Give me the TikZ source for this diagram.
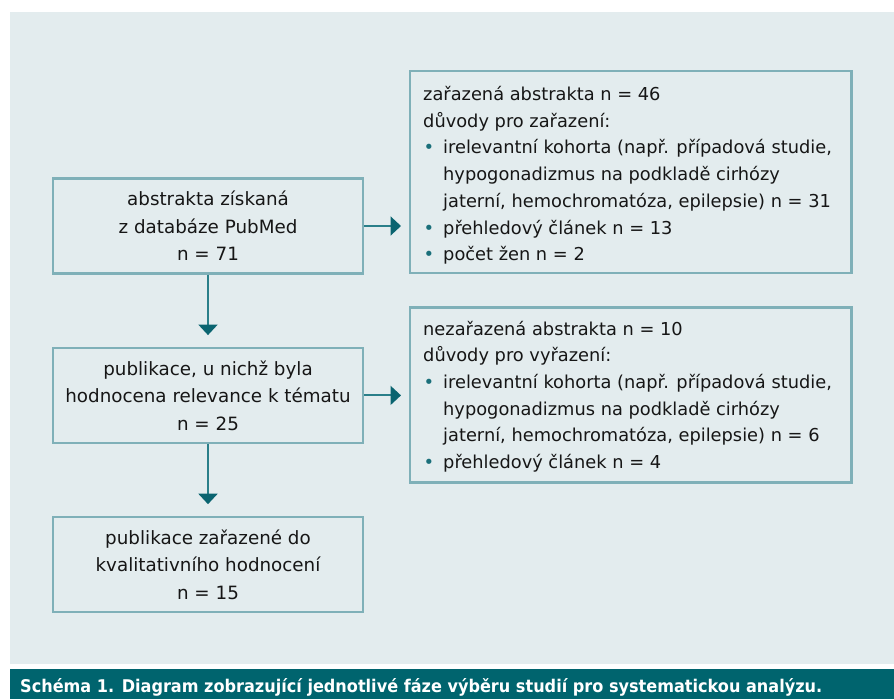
\documentclass[tikz,border=0pt]{standalone}
\usepackage{fontspec}
\usepackage{graphicx}
\setmainfont{DejaVu Sans}
\usetikzlibrary{arrows.meta}
\definecolor{bggray}{HTML}{E3ECEE}
\definecolor{boxline}{HTML}{7FB0B8}
\definecolor{arrline}{HTML}{2A7F89}
\definecolor{arrhead}{HTML}{0A6470}
\definecolor{capbar}{HTML}{00646E}
\definecolor{bulc}{HTML}{1A6F7A}
\definecolor{txt}{HTML}{161616}
\newcommand\bul{\makebox[20pt][l]{\hspace{0.5pt}{\fontsize{18}{18}\selectfont\color{bulc}•}}}
\newcommand\ind{\hspace*{20pt}}
\begin{document}
\begin{tikzpicture}[x=1pt,y=-1pt,
  flowbox/.style={draw=boxline, line width=2.4pt, minimum width=310pt, minimum height=95pt,
    inner sep=0pt, align=center, text=txt, font=\fontsize{18.3}{27.5}\selectfont},
  sidebox/.style={draw=boxline, line width=2.4pt, minimum width=441.6pt, inner sep=0pt},
  sidetext/.style={anchor=base west, inner sep=0pt, text=txt, font=\fontsize{17.8}{26.7}\selectfont},
  flowarrow/.style={draw=arrline, line width=2pt, -{Triangle[width=19pt,length=10.5pt,color=arrhead]}},
  captext/.style={anchor=base west, inner sep=0pt, text=white, font=\bfseries\fontsize{17.5}{20}\selectfont}
]
\useasboundingbox (0,0) rectangle (894,699);
\fill[white] (0,0) rectangle (894,699);
\fill[bggray] (10,12) rectangle (894,664);
\fill[capbar] (10,669) rectangle (894,699);

\node[flowbox] (A) at (208,226) {abstrakta získaná\\z databáze PubMed\\n = 71};
\node[flowbox] (B) at (208,395.4) {publikace, u nichž byla\\hodnocena relevance k tématu\\n = 25};
\node[flowbox] (C) at (208,564.5) {publikace zařazené do\\kvalitativního hodnocení\\n = 15};

\node[sidebox, minimum height=202pt] (R1) at (630.5,171.7) {};
\node[sidebox, minimum height=175pt] (R2) at (630.5,394.8) {};

\node[sidetext] (R1t) at (423,100.5) {\vtop{%
  \hbox{zařazená abstrakta n = 46}
  \hbox{důvody pro zařazení:}
  \hbox{\bul irelevantní kohorta (např. případová studie,}
  \hbox{\ind hypogonadizmus na podkladě cirhózy}
  \hbox{\ind jaterní, hemochromatóza, epilepsie) n = 31}
  \hbox{\bul přehledový článek n = 13}
  \hbox{\bul počet žen n = 2}}};

\node[sidetext] (R2t) at (423,335) {\vtop{%
  \hbox{nezařazená abstrakta n = 10}
  \hbox{důvody pro vyřazení:}
  \hbox{\bul irelevantní kohorta (např. případová studie,}
  \hbox{\ind hypogonadizmus na podkladě cirhózy}
  \hbox{\ind jaterní, hemochromatóza, epilepsie) n = 6}
  \hbox{\bul přehledový článek n = 4}}};

\draw[flowarrow, shorten >=11.6pt] (A) -- (B);
\draw[flowarrow, shorten >=11.6pt] (B) -- (C);
\draw[flowarrow, shorten >=7.5pt] (A.east) -- (A.east -| R1.west);
\draw[flowarrow, shorten >=7.5pt] (B.east) -- (B.east -| R2.west);

\node[captext] (cap) at (20,692) {\resizebox{802pt}{\height}{Schéma 1. Diagram zobrazující jednotlivé fáze výběru studií pro systematickou analýzu.}};
\end{tikzpicture}
\end{document}
